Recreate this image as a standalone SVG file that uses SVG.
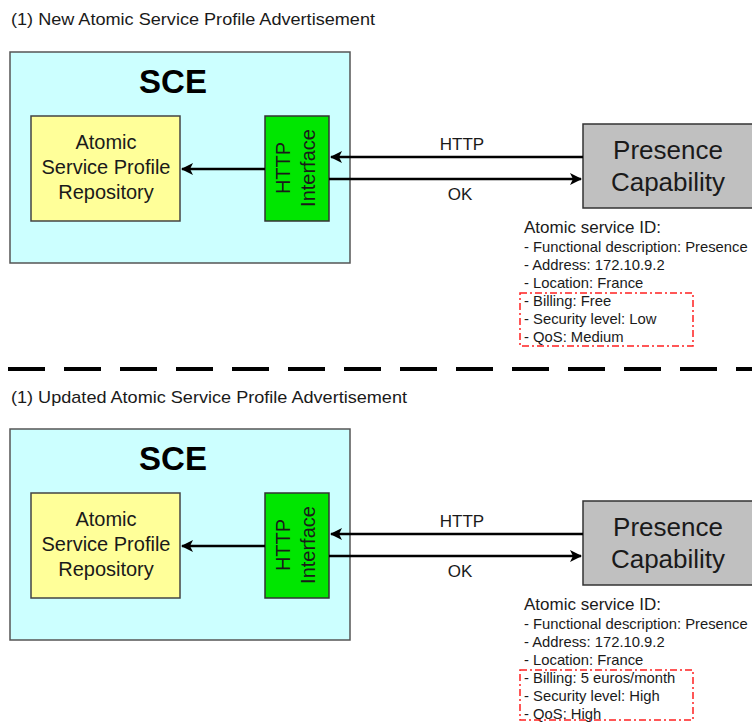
<svg xmlns="http://www.w3.org/2000/svg" width="752" height="722" viewBox="0 0 752 722">
<style>
text{font-family:"Liberation Sans",Arial,sans-serif;fill:#1a1a1a}
.title{font-size:17px}
.sce{fill:#ccffff;stroke:#555;stroke-width:1.5}
.sceT{font-size:33px;font-weight:bold;text-anchor:middle;fill:#000}
.repo{fill:#ffff99;stroke:#444;stroke-width:1.5}
.repoT{font-size:20px;text-anchor:middle}
.http{fill:#00e600;stroke:#333;stroke-width:1.5}
.httpT{font-size:20px;text-anchor:middle}
.pres{fill:#c0c0c0;stroke:#333;stroke-width:1.5}
.presT{font-size:26px;text-anchor:middle}
.lbl{font-size:17px;text-anchor:middle}
.idH{font-size:17px}
.idL{font-size:14.8px}
.conn{stroke:#000;stroke-width:2.5;fill:none}
.red{fill:none;stroke:#ff2020;stroke-width:1.5;stroke-dasharray:7 3 2 3}
.sep{stroke:#000;stroke-width:4;stroke-dasharray:37 19}
</style>
<defs>
<marker id="ah" markerWidth="12" markerHeight="12" refX="11" refY="6" orient="auto" markerUnits="userSpaceOnUse">
<path d="M0,0 L12,6 L0,12 L3,6 Z" fill="#000"/>
</marker>
</defs>

<text class="title" x="11" y="25" textLength="364" lengthAdjust="spacingAndGlyphs">(1) New Atomic Service Profile Advertisement</text>
<g id="sce1">
<rect class="sce" x="10" y="52" width="340" height="211"/>
<text class="sceT" x="173" y="93">SCE</text>
</g>
<g id="repo1">
<rect class="repo" x="31" y="116" width="149" height="105"/>
<text class="repoT" x="106" y="149">Atomic</text>
<text class="repoT" x="106" y="174">Service Profile</text>
<text class="repoT" x="106" y="199">Repository</text>
</g>
<g id="http1">
<rect class="http" x="265" y="116" width="64" height="105"/>
<text class="httpT" transform="translate(290,168) rotate(-90)">HTTP</text>
<text class="httpT" transform="translate(315,168) rotate(-90)">Interface</text>
</g>
<g id="pres1">
<rect class="pres" x="583" y="124" width="200" height="84"/>
<text class="presT" x="668" y="159">Presence</text>
<text class="presT" x="668" y="191">Capability</text>
</g>
<g id="info1">
<text class="idH" x="524" y="233">Atomic service ID:</text>
<text class="idL" x="524" y="252">- Functional description: Presence</text>
<text class="idL" x="524" y="270">- Address: 172.10.9.2</text>
<text class="idL" x="524" y="288">- Location: France</text>
<text class="idL" x="524" y="306">- Billing: Free</text>
<text class="idL" x="524" y="324">- Security level: Low</text>
<text class="idL" x="524" y="342">- QoS: Medium</text>
<rect class="red" x="520" y="293" width="173" height="53"/>
</g>
<g id="connectors1">
<line class="conn" x1="265" y1="169" x2="182" y2="169" marker-end="url(#ah)"/>
<line class="conn" x1="583" y1="157" x2="331" y2="157" marker-end="url(#ah)"/>
<line class="conn" x1="329" y1="179" x2="581" y2="179" marker-end="url(#ah)"/>
<text class="lbl" x="462" y="150">HTTP</text>
<text class="lbl" x="460" y="200">OK</text>
</g>

<line class="sep" x1="8" y1="369" x2="752" y2="369"/>

<text class="title" x="11" y="403" textLength="396" lengthAdjust="spacingAndGlyphs">(1) Updated Atomic Service Profile Advertisement</text>
<g id="sce2">
<rect class="sce" x="10" y="429" width="340" height="211"/>
<text class="sceT" x="173" y="470">SCE</text>
</g>
<g id="repo2">
<rect class="repo" x="31" y="493" width="149" height="105"/>
<text class="repoT" x="106" y="526">Atomic</text>
<text class="repoT" x="106" y="551">Service Profile</text>
<text class="repoT" x="106" y="576">Repository</text>
</g>
<g id="http2">
<rect class="http" x="265" y="493" width="64" height="105"/>
<text class="httpT" transform="translate(290,545) rotate(-90)">HTTP</text>
<text class="httpT" transform="translate(315,545) rotate(-90)">Interface</text>
</g>
<g id="pres2">
<rect class="pres" x="583" y="501" width="200" height="84"/>
<text class="presT" x="668" y="536">Presence</text>
<text class="presT" x="668" y="568">Capability</text>
</g>
<g id="info2">
<text class="idH" x="524" y="610">Atomic service ID:</text>
<text class="idL" x="524" y="629">- Functional description: Presence</text>
<text class="idL" x="524" y="647">- Address: 172.10.9.2</text>
<text class="idL" x="524" y="665">- Location: France</text>
<text class="idL" x="524" y="683">- Billing: 5 euros/month</text>
<text class="idL" x="524" y="701">- Security level: High</text>
<text class="idL" x="524" y="719">- QoS: High</text>
<rect class="red" x="520" y="670" width="173" height="50"/>
</g>
<g id="connectors2">
<line class="conn" x1="265" y1="546" x2="182" y2="546" marker-end="url(#ah)"/>
<line class="conn" x1="583" y1="534" x2="331" y2="534" marker-end="url(#ah)"/>
<line class="conn" x1="329" y1="556" x2="581" y2="556" marker-end="url(#ah)"/>
<text class="lbl" x="462" y="527">HTTP</text>
<text class="lbl" x="460" y="577">OK</text>
</g>
</svg>
